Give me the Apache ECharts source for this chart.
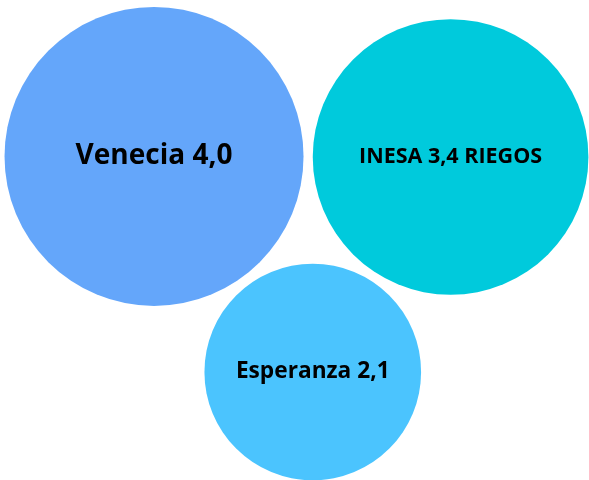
<!DOCTYPE html>
<html>
<head>
<meta charset="utf-8">
<script src="https://cdn.jsdelivr.net/npm/echarts@6/dist/echarts.min.js"></script>
<style>
  html, body { margin: 0; padding: 0; background: #fff; }
  #chart { width: 589px; height: 480px; }
</style>
</head>
<body>
<div id="chart"></div>
<script>
// bubble data
var names = ['Venecia', 'INESA', 'Esperanza'];
var values = [4.0, 3.4, 2.1];
var suffixes = ['', ' RIEGOS', ''];
// packed bubble positions (0-100 scale)
var posX = [26.15, 76.5, 53.1];
var posY = [32.6, 32.7, 77.5];
var colors = ['#64a6fa', '#00cadc', '#4bc4fe'];
var labelSizes = [28, 21.5, 22.7];

var chart = echarts.init(document.getElementById('chart'));

var seriesData = names.map(function (name, i) {
  return {
    name: name,
    value: [posX[i], posY[i], values[i]],
    itemStyle: { color: colors[i], opacity: 1 },
    label: { fontSize: labelSizes[i] }
  };
});

var option = {
  animation: false,
  grid: { left: 0, right: 0, top: 0, bottom: 0 },
  xAxis: { type: 'value', min: 0, max: 100, show: false },
  yAxis: { type: 'value', min: 0, max: 100, inverse: true, show: false },
  series: [
    {
      type: 'scatter',
      symbol: 'circle',
      symbolSize: function (val) {
        return 149.5 * Math.sqrt(val[2]);
      },
      itemStyle: { opacity: 1 },
      label: {
        show: true,
        position: 'inside',
        color: '#000',
        opacity: 1,
        fontFamily: 'Open Sans',
        fontWeight: 'bold',
        formatter: function (p) {
          var i = p.dataIndex;
          return p.name + ' ' + values[i].toFixed(1).replace('.', ',') + suffixes[i];
        }
      },
      emphasis: { disabled: true },
      data: seriesData
    }
  ]
};

chart.setOption(option);
</script>
</body>
</html>
